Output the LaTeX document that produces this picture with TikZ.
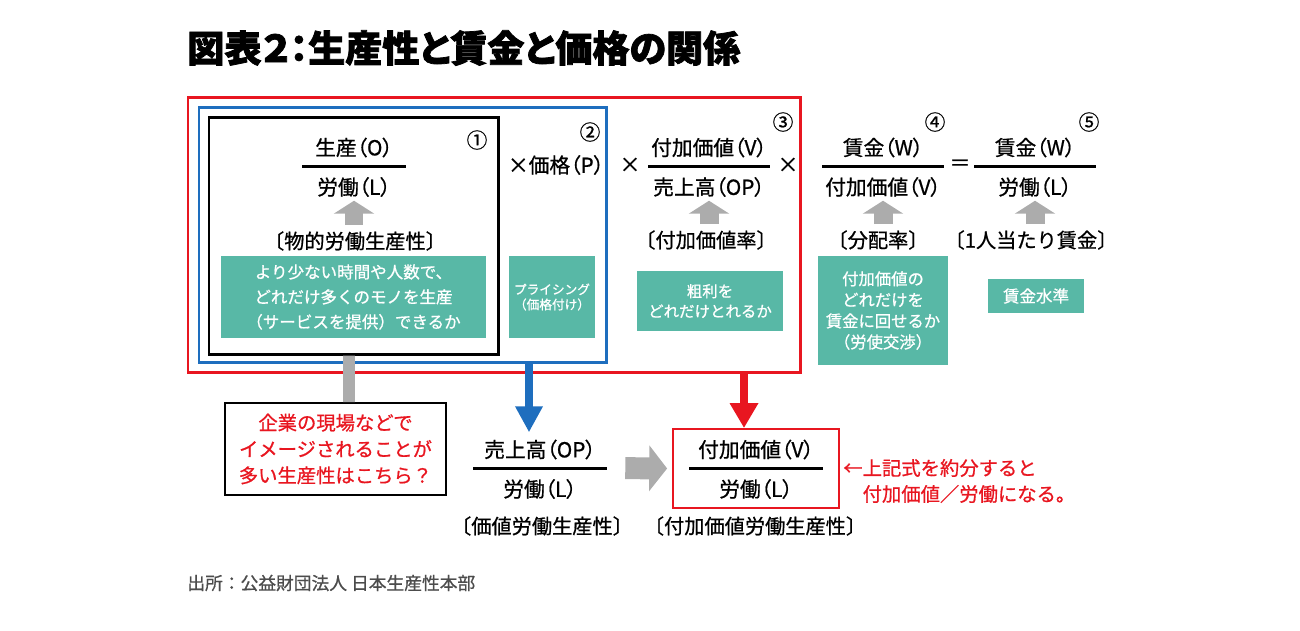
\documentclass[tikz,border=0pt]{standalone}
\usepackage{fontspec}
\setmainfont[FakeBold=0.8]{Noto Sans CJK JP}
\newfontfamily\termfont[RawFeature=+palt,FakeBold=0.8]{Noto Sans CJK JP}
\newfontfamily\titlefont[RawFeature=+palt,BoldFeatures={FakeBold=2}]{Noto Sans CJK JP}
\usepackage{tikz}
\usetikzlibrary{arrows.meta}
\usetikzlibrary{calc}
\usetikzlibrary{positioning}
\definecolor{memogreen}{RGB}{88,184,166}
\definecolor{boxred}{RGB}{232,22,32}
\definecolor{boxblue}{RGB}{30,110,190}
\definecolor{arrowgray}{RGB}{172,172,172}
\tikzstyle{term} = [inner sep=0pt,font=\termfont\fontsize{11.8}{14}\selectfont]
\tikzstyle{bar} = [fill=black,inner sep=0pt,minimum height=1.7pt]
\tikzstyle{tag} = [inner sep=0pt,font=\fontsize{11.5}{14}\selectfont]
\tikzstyle{memo} = [fill=memogreen,text=white,align=center,inner sep=0pt]
\tikzstyle{frame} = [draw,line width=1.7pt,inner sep=0pt]
\tikzstyle{uparrow} = [arrowgray,line width=10.8pt,-{Triangle[width=22.8pt,length=7.4pt]}]

\begin{document}
\begin{tikzpicture}[x=0.02cm,y=-0.02cm]
    \def\pu{0.02cm}
    \useasboundingbox (0,0) rectangle (1300,630);

% Title and source
    \node[anchor=west,inner sep=0pt,font=\titlefont\bfseries\fontsize{21.1}{25}\selectfont] at (187,48) (title) {図表２：生産性と賃金と価格の関係};
    \node[anchor=west,inner sep=0pt,text=black!70,font=\fontsize{10.1}{12}\selectfont] at (187,583) (source) {出所：公益財団法人 日本生産性本部};

% Draw frames
    \node[frame,draw=boxred,minimum width=612*\pu,minimum height=275*\pu] at (494,234.5) (redbox) {};
    \node[frame,draw=boxblue,minimum width=407*\pu,minimum height=255*\pu] at (402.5,234.5) (bluebox) {};
    \node[frame,minimum width=289*\pu,minimum height=237*\pu] at (353.5,235.5) (blackbox) {};

% Fractions
    \foreach \i/\x/\y/\w/\num/\den in {1/354/166/104/生産（O）/労働（L）,
        2/709/166/122/付加価値（V）/売上高（OP）,
        3/883/166/122/賃金（W）/付加価値（V）,
        4/1035/166/122/賃金（W）/労働（L）,
        5/540/468/134/売上高（OP）/労働（L）,
        6/756/468/134/付加価値（V）/労働（L）} {
        \node[bar,minimum width=\w*\pu] at (\x,\y) (bar\i) {};
        \node[term,on grid,above=0.37cm of bar\i] (num\i) {\num};
        \node[term,on grid,below=0.42cm of bar\i] (den\i) {\den};
    }
    \node[term] at (556,165) (price) {×価格（P）};
    \node[term] at (630,165) (times1) {×};
    \node[term] at (788,165) (times2) {×};
    \node[term] at (960,165) (equal) {＝};
    \foreach \c/\x/\y [count=\i] in {①/477/140, ②/590/132, ③/783/122, ④/935/122, ⑤/1089/122} {
        \node[term] at (\x,\y) (no\i) {\c};
    }

% Labels under the fractions
    \node[tag] at (355,241) (tag1) {〔物的労働生産性〕};
    \node[tag] at (706,240) (tag2) {〔付加価値率〕};
    \node[tag] at (878,240) (tag3) {〔分配率〕};
    \node[tag] at (1031,240) (tag4) {〔1人当たり賃金〕};
    \node[tag] at (542,526) (tag5) {〔価値労働生産性〕};
    \node[tag] at (755,526) (tag6) {〔付加価値労働生産性〕};
    \foreach \i in {1,2,3,4} {
        \draw[uparrow,shorten <=9pt,shorten >=2pt] (den\i |- tag\i) -- (den\i.south);
    }

% Green notes
    \node[memo,minimum width=265*\pu,minimum height=82*\pu,font=\fontsize{9.4}{14.2}\selectfont] at (353.5,297) (memo1) {より少ない時間や人数で、\\どれだけ多くのモノを生産\\（サービスを提供）できるか};
    \node[memo,minimum width=86*\pu,minimum height=82*\pu,font=\fontsize{7.2}{8.6}\selectfont] at (552,297) (memo2) {プライシング\\（価格付け）};
    \node[memo,minimum width=146*\pu,minimum height=60*\pu,font=\fontsize{8.8}{11.4}\selectfont] at (710,301) (memo3) {粗利を\\どれだけとれるか};
    \node[memo,minimum width=130*\pu,minimum height=109*\pu,font=\fontsize{9.3}{12}\selectfont] at (883,310.5) (memo4) {付加価値の\\どれだけを\\賃金に回せるか\\（労使交渉）};
    \node[memo,minimum width=96*\pu,minimum height=34*\pu,font=\fontsize{9.4}{12}\selectfont] at (1036,296) (memo5) {賃金水準};

% Bottom part
    \node[frame,line width=1.1pt,minimum width=221*\pu,minimum height=92*\pu,text=boxred,align=center,font=\fontsize{11}{15}\selectfont] at (335.5,449) (callout) {企業の現場などで\\イメージされることが\\多い生産性はこちら？};
    \node[frame,draw=boxred,line width=1.1pt,minimum width=166*\pu,minimum height=79*\pu] at (756,468.5) (notebox) {};
    \node[anchor=west,inner sep=0pt,text=boxred,align=left,font=\fontsize{11}{14.8}\selectfont] at (843,481) (remark) {←上記式を約分すると\\　付加価値／労働になる。};

    % join up
    \draw[arrowgray,line width=6.8pt] ($(blackbox.south)+(-4.5,0)$) -- ($(callout.north)+(13.5,0)$);
    \draw[boxblue,line width=4.6pt,-{Triangle[width=14.8pt,length=14.8pt]}] ($(bluebox.south -| num5)+(-11,0)$) -- ($(num5.north)+(-11,-7)$);
    \draw[boxred,line width=5pt,-{Triangle[width=15.4pt,length=14.2pt]}] ($(redbox.south -| notebox)+(-12,0)$) -- ($(notebox.north)+(-12,0)$);
    \draw[arrowgray,line width=12.5pt,-{Triangle[width=25.6pt,length=10.2pt]},shorten <=10.2pt,shorten >=2.8pt] (bar5.east) -- (notebox.west);

\end{tikzpicture}
\end{document}
